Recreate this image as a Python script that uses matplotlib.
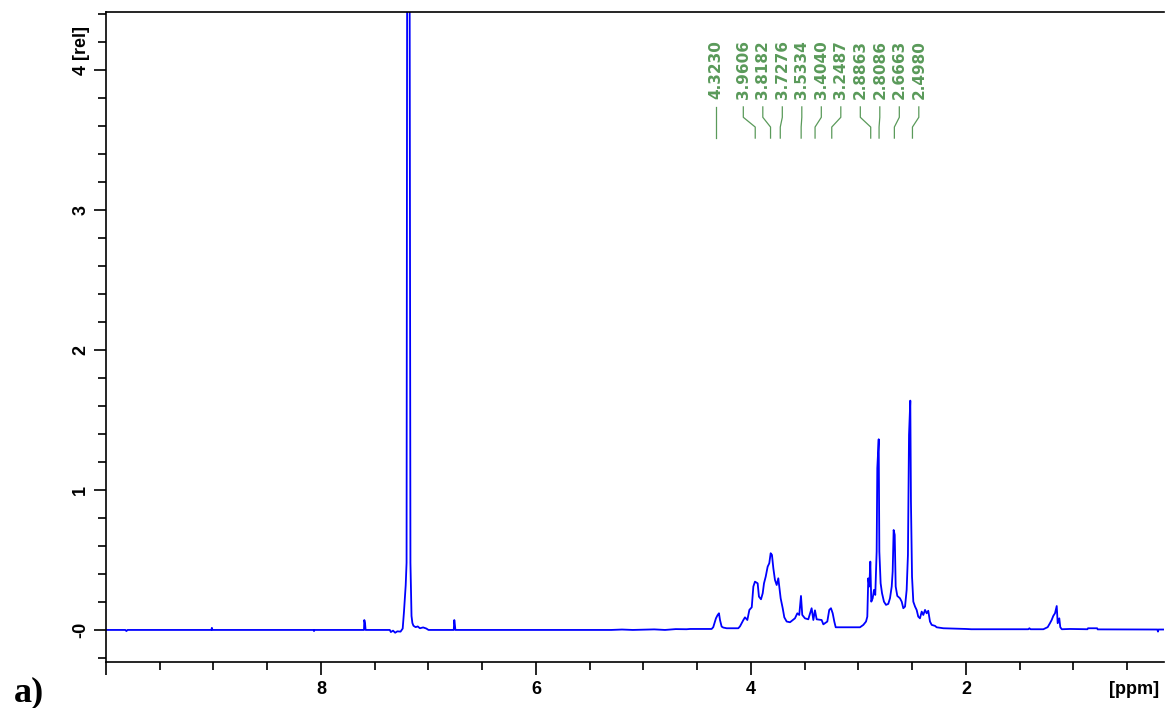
import matplotlib

matplotlib.use("Agg")
import matplotlib.pyplot as plt
import matplotlib.transforms as mtransforms
from matplotlib.ticker import FixedLocator, MultipleLocator

# 1H NMR trace: chemical shift [ppm] and intensity [rel]
ppm = [
    10.05, 9.82, 9.81, 9.80, 9.02, 9.015, 9.01, 8.07, 8.065, 8.06,
    7.60, 7.597, 7.59, 7.585, 7.36, 7.35, 7.33, 7.31, 7.29, 7.26, 7.24,
    7.228, 7.212, 7.204, 7.197, 7.178, 7.168, 7.158, 7.15, 7.14, 7.12,
    7.10, 7.08, 7.05, 7.02, 7.00, 6.765, 6.760, 6.755, 6.75,
    5.30, 5.20, 5.10, 4.90, 4.80, 4.70, 4.60,
    4.567, 4.366, 4.351, 4.326, 4.310, 4.298, 4.288, 4.273, 4.258, 4.226,
    4.118, 4.102, 4.071, 4.056, 4.034, 4.015, 3.993, 3.978, 3.963, 3.938,
    3.926, 3.907, 3.891, 3.879, 3.863, 3.845, 3.830, 3.817, 3.805, 3.792,
    3.777, 3.761, 3.746, 3.737, 3.724, 3.705, 3.690, 3.668, 3.637, 3.591,
    3.569, 3.551, 3.535, 3.523, 3.498, 3.467, 3.436, 3.420, 3.405, 3.389,
    3.343, 3.327, 3.290, 3.272, 3.256, 3.240, 3.225, 3.212, 3.141,
    3.079, 2.986, 2.955, 2.930, 2.918, 2.909, 2.899, 2.890, 2.881, 2.868,
    2.856, 2.844, 2.831, 2.825, 2.812, 2.806, 2.794, 2.781, 2.763, 2.744,
    2.723, 2.707, 2.691, 2.682, 2.673, 2.663, 2.654, 2.639, 2.614, 2.598,
    2.583, 2.567, 2.552, 2.540, 2.530, 2.518, 2.512, 2.502, 2.490, 2.474,
    2.459, 2.444, 2.428, 2.412, 2.397, 2.381, 2.366, 2.351, 2.335, 2.319,
    2.288, 2.273, 2.211, 2.00, 1.95,
    1.42, 1.41, 1.40, 1.28, 1.24, 1.219, 1.203, 1.188, 1.172, 1.156,
    1.147, 1.132, 1.123, 1.109, 1.033, 0.87, 0.865, 0.78, 0.775,
    0.22, 0.214, 0.21, 0.10,
]
intensity = [
    0.0, 0.0, -0.008, 0.0, 0.0, 0.015, 0.0, 0.0, -0.008, 0.0,
    0.0, 0.071, 0.045, 0.0, 0.0, -0.015, -0.005, -0.02, -0.01, -0.012, 0.01,
    0.131, 0.32, 0.48, 6.0, 6.0, 0.48, 0.10, 0.05, 0.03, 0.02,
    0.025, 0.012, 0.018, 0.01, 0.0, 0.0, 0.071, 0.04, 0.0,
    0.0, 0.003, 0.0, 0.004, 0.0, 0.006, 0.005,
    0.007, 0.007, 0.02, 0.083, 0.107, 0.119, 0.07, 0.024, 0.017, 0.012,
    0.012, 0.026, 0.071, 0.09, 0.071, 0.143, 0.162, 0.31, 0.345, 0.333,
    0.238, 0.219, 0.262, 0.333, 0.381, 0.452, 0.476, 0.548, 0.536, 0.44,
    0.357, 0.321, 0.369, 0.31, 0.226, 0.155, 0.09, 0.06, 0.055, 0.083,
    0.119, 0.107, 0.243, 0.107, 0.083, 0.076, 0.155, 0.071, 0.14, 0.076,
    0.071, 0.04, 0.06, 0.143, 0.155, 0.119, 0.06, 0.019, 0.019,
    0.019, 0.019, 0.036, 0.06, 0.095, 0.369, 0.31, 0.488, 0.202, 0.226,
    0.286, 0.25, 0.56, 1.155, 1.362, 0.56, 0.333, 0.262, 0.202, 0.179,
    0.186, 0.226, 0.31, 0.417, 0.714, 0.679, 0.31, 0.243, 0.226, 0.202,
    0.155, 0.167, 0.286, 0.536, 1.393, 1.638, 0.917, 0.381, 0.202, 0.167,
    0.143, 0.095, 0.083, 0.131, 0.107, 0.143, 0.119, 0.137, 0.06, 0.036,
    0.029, 0.019, 0.012, 0.007, 0.005,
    0.005, 0.012, 0.005, 0.005, 0.02, 0.048, 0.071, 0.10, 0.119, 0.171,
    0.048, 0.083, 0.02, 0.005, 0.007, 0.005, 0.012, 0.012, 0.004,
    0.003, -0.012, 0.003, 0.003,
]

peak_labels = ["4.3230", "3.9606", "3.8182", "3.7276", "3.5334", "3.4040",
               "3.2487", "2.8863", "2.8086", "2.6663", "2.4980"]

x_major = [10, 8, 6, 4, 2]
x_major_labels = ["", "8", "6", "4", "2"]
y_major = [0, 1, 2, 3, 4]
y_major_labels = ["-0", "1", "2", "3", "4"]

BLUE = "#0000ff"
GREEN = "#5a9a5a"
SANS = ["Liberation Sans", "DejaVu Sans"]


def spread_labels(positions, gap):
    """Push label positions apart (descending ppm) so neighbours are >= gap."""
    groups = [[p] for p in positions]
    changed = True
    while changed:
        changed = False
        out = []
        for g in groups:
            if out:
                prev = out[-1]
                cp = sum(prev) / len(prev)
                cg = sum(g) / len(g)
                last_prev = cp - gap * (len(prev) - 1) / 2
                first_g = cg + gap * (len(g) - 1) / 2
                if last_prev - first_g < gap:
                    out[-1] = prev + g
                    changed = True
                    continue
            out.append(g)
        groups = out
    result = []
    for g in groups:
        c = sum(g) / len(g)
        for i in range(len(g)):
            result.append(c + gap * ((len(g) - 1) / 2 - i))
    return result


fig = plt.figure(figsize=(11.65, 7.08), dpi=100)
ax = fig.add_axes([106 / 1165, 46 / 708, (1164 - 106) / 1165, 650 / 708])

ax.plot(ppm, intensity, color=BLUE, lw=1.3)
ax.set_xlim(10.0, 0.158)
ax.set_ylim(-0.229, 4.414)

ax.spines["right"].set_visible(False)
for s in ("left", "top", "bottom"):
    ax.spines[s].set_linewidth(1.2)

ax.xaxis.set_major_locator(FixedLocator(x_major))
ax.xaxis.set_minor_locator(MultipleLocator(0.5))
ax.set_xticklabels(x_major_labels)
ax.yaxis.set_major_locator(FixedLocator(y_major))
ax.yaxis.set_minor_locator(MultipleLocator(0.2))
ax.set_yticklabels(y_major_labels)

ax.tick_params(which="major", length=9, width=1.2, direction="out")
ax.tick_params(which="minor", length=5.5, width=1.2, direction="out")
ax.tick_params(axis="x", which="major", pad=5)
ax.tick_params(axis="y", which="major", pad=3, labelrotation=90)
for lab in ax.get_xticklabels() + ax.get_yticklabels():
    lab.set_fontfamily(SANS)
    lab.set_fontweight("bold")
    lab.set_fontsize(13)
for lab in ax.get_yticklabels():
    lab.set_verticalalignment("center")

ax.annotate("[rel]", xy=(0, 4), xycoords=ax.get_yaxis_transform(),
            xytext=(-18.5, 8), textcoords="offset points", rotation=90,
            ha="center", va="bottom", fontsize=13, fontweight="bold",
            family=SANS, annotation_clip=False)

# peak picking labels
trans = mtransforms.blended_transform_factory(ax.transData, ax.transAxes)
peak_pos = [float(s) for s in peak_labels]
label_pos = spread_labels(peak_pos, 19.5 / 107.5)
for s, xp, xl in zip(peak_labels, peak_pos, label_pos):
    ax.text(xl, 0.866, s, transform=trans, rotation=90, ha="center",
            va="bottom", fontsize=11, fontweight="bold", color=GREEN,
            family=["DejaVu Sans"])
    ax.plot([xl, xl, xp, xp], [0.854, 0.838, 0.823, 0.806], transform=trans,
            color=GREEN, lw=0.9, clip_on=False)

fig.text(1134 / 1165, 1 - 690 / 708, "[ppm]", ha="center", va="center",
         fontsize=13, fontweight="bold", family=SANS)
fig.text(14 / 1165, 1 - 701 / 708, "a)", ha="left", va="baseline",
         fontsize=26, fontweight="bold", family=["Liberation Serif", "DejaVu Serif"])

fig.savefig("out.png", dpi=100)
plt.close(fig)
